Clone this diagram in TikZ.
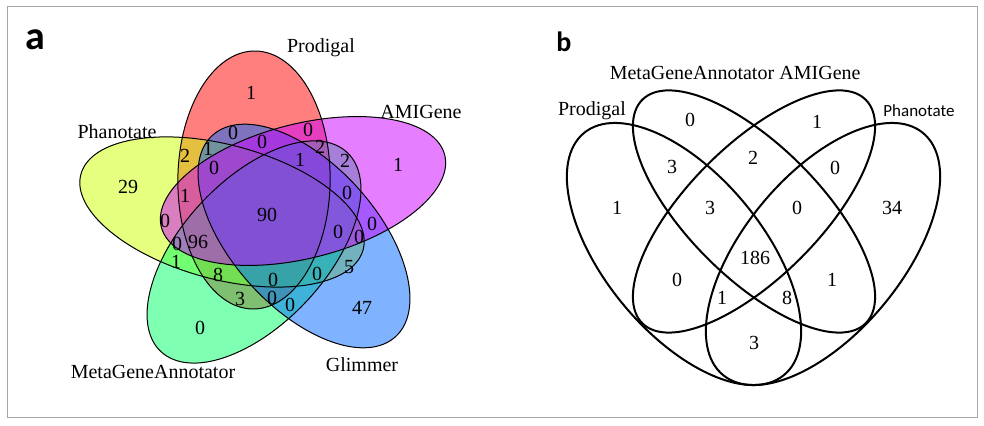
\documentclass[tikz,border=0pt]{standalone}
\usepackage{fontspec}
\setmainfont{Liberation Serif}
\newfontfamily\carlito{Carlito}
\usepackage{tikz}
\definecolor{prodred}{HTML}{FF0000}
\definecolor{phanyellow}{HTML}{CCFF00}
\definecolor{mgagreen}{HTML}{00FF66}
\definecolor{glimblue}{HTML}{0066FF}
\definecolor{amimagenta}{HTML}{CC00FF}

\begin{document}
\begin{tikzpicture}[
			x=0.5pt, y=-0.5pt,
			venn/.style={fill=#1, fill opacity=0.5},
			petal/.style args={#1/#2/#3}{shift={(#1,#2)}, xscale=1.145, rotate=#3},
			rim/.style={draw=black, line width=0.5pt},
			quad/.style={draw=black, line width=1pt},
			num/.style={inner sep=0pt, font=\fontsize{10}{12}\selectfont},
			setname/.style={inner sep=0pt, font=\fontsize{10}{12}\selectfont},
			tag/.style={inner sep=0pt, font=\carlito\bfseries}
			]
			\useasboundingbox (0,0) rectangle (984,426);
			\draw[gray!70, line width=0.5pt] (7.5,7) rectangle (977,418); % ramka
			
			% --- Panel a: pięć elips ---
			\fill[venn=prodred, petal={254/180/89.6}] (0,0) ellipse [x radius=129, y radius=66.5];
			\fill[venn=phanyellow, petal={222/212/161.6}] (0,0) ellipse [x radius=129, y radius=66.5];
			\fill[venn=mgagreen, petal={254/252/233.6}] (0,0) ellipse [x radius=129, y radius=66.5];
			\fill[venn=glimblue, petal={304/236/305.6}] (0,0) ellipse [x radius=129, y radius=66.5];
			\fill[venn=amimagenta, petal={303/191/17.6}] (0,0) ellipse [x radius=129, y radius=66.5];
			\draw[rim, petal={254/180/89.6}] (0,0) ellipse [x radius=129, y radius=66.5];
			\draw[rim, petal={222/212/161.6}] (0,0) ellipse [x radius=129, y radius=66.5];
			\draw[rim, petal={254/252/233.6}] (0,0) ellipse [x radius=129, y radius=66.5];
			\draw[rim, petal={304/236/305.6}] (0,0) ellipse [x radius=129, y radius=66.5];
			\draw[rim, petal={303/191/17.6}] (0,0) ellipse [x radius=129, y radius=66.5];
			
			% --- Panel a: nazwy zbiorów ---
			\node[tag, font=\carlito\bfseries\fontsize{20}{24}\selectfont] (taga) at (35,40) {a};
			\node[setname] (pa-prod) at (321,48) {Prodigal};
			\node[setname] (pa-ami) at (421,112) {AMIGene};
			\node[setname] (pa-phan) at (117,132) {Phanotate};
			\node[setname] (pa-mga) at (153,372) {MetaGeneAnnotator};
			\node[setname] (pa-glim) at (362,365) {Glimmer};
			
			% --- Panel a: liczności ---
			\node[num] (ca1) at (251,93) {1};
			\node[num] (ca2) at (398,165) {1};
			\node[num] (ca3) at (128,187) {29};
			\node[num] (ca4) at (200,328) {0};
			\node[num] (ca5) at (362,308) {47};
			\node[num] (ca6) at (233,133) {0};
			\node[num] (ca7) at (308,130) {0};
			\node[num] (ca8) at (208,149) {1};
			\node[num] (ca9) at (185,156) {2};
			\node[num] (ca10) at (262,142) {0};
			\node[num] (ca11) at (320,147) {2};
			\node[num] (ca12) at (300,160) {1};
			\node[num] (ca13) at (345,161) {2};
			\node[num] (ca14) at (214,168) {0};
			\node[num] (ca15) at (185,196) {1};
			\node[num] (ca16) at (347,193) {0};
			\node[num] (ca17) at (165,221) {0};
			\node[num] (ca18) at (267,215) {90};
			\node[num] (ca19) at (338,232) {0};
			\node[num] (ca20) at (372,224) {0};
			\node[num] (ca21) at (359,237) {0};
			\node[num] (ca22) at (177,244) {0};
			\node[num] (ca23) at (198,242) {96};
			\node[num] (ca24) at (176,262) {1};
			\node[num] (ca25) at (218,275) {8};
			\node[num] (ca26) at (273,280) {0};
			\node[num] (ca27) at (317,274) {0};
			\node[num] (ca28) at (349,267) {5};
			\node[num] (ca29) at (240,299) {3};
			\node[num] (ca30) at (272,298) {0};
			\node[num] (ca31) at (290,305) {0};
			
			% --- Panel b: cztery elipsy ---
			\draw[quad, shift={(684,254)}, rotate=129.6] (0,0) ellipse [x radius=157, y radius=79];
			\draw[quad, shift={(754,211.5)}, rotate=135] (0,0) ellipse [x radius=158, y radius=66];
			\draw[quad, shift={(754,211.5)}, rotate=45] (0,0) ellipse [x radius=158, y radius=66];
			\draw[quad, shift={(823,254)}, rotate=50.4] (0,0) ellipse [x radius=157, y radius=79];
			
			% --- Panel b: nazwy zbiorów ---
			\node[tag, font=\carlito\bfseries\fontsize{14}{17}\selectfont] (tagb) at (564,42) {b};
			\node[setname] (pb-prod) at (592,111) {Prodigal};
			\node[setname] (pb-mga) at (692,73) {MetaGeneAnnotator};
			\node[setname] (pb-ami) at (820,73) {AMIGene};
			\node[setname, font=\carlito\fontsize{8.5}{10}\selectfont] (pb-phan) at (919,111) {Phanotate};
			
			% --- Panel b: liczności ---
			\node[num] (cb1) at (690,120) {0};
			\node[num] (cb2) at (817,122) {1};
			\node[num] (cb3) at (672,167) {3};
			\node[num] (cb4) at (753,158) {2};
			\node[num] (cb5) at (835,168) {0};
			\node[num] (cb6) at (617,208) {1};
			\node[num] (cb7) at (710,208) {3};
			\node[num] (cb8) at (797,208) {0};
			\node[num] (cb9) at (892,208) {34};
			\node[num] (cb10) at (755,258) {186};
			\node[num] (cb11) at (677,280) {0};
			\node[num] (cb12) at (832,280) {1};
			\node[num] (cb13) at (722,298) {1};
			\node[num] (cb14) at (787,298) {8};
			\node[num] (cb15) at (754,343) {3};
			
		\end{tikzpicture}
\end{document}
